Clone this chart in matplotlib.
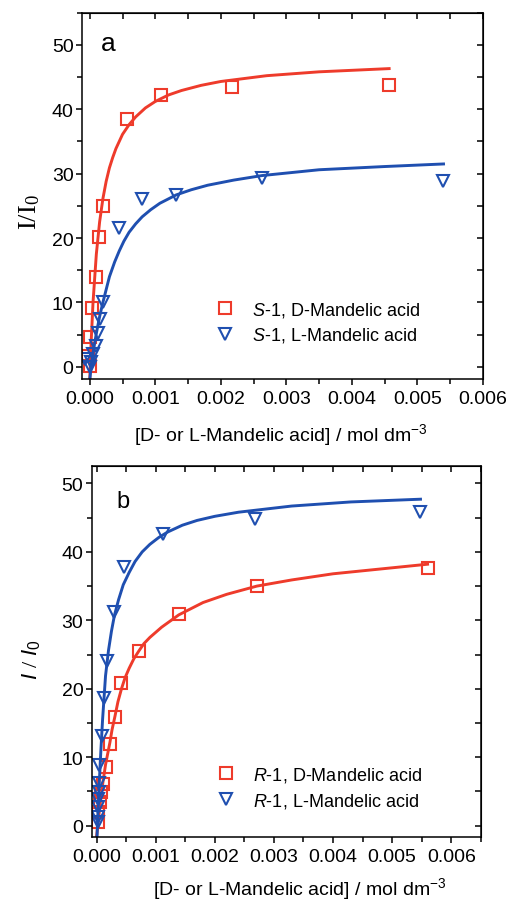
import numpy as np
import matplotlib.pyplot as plt
from matplotlib.ticker import MultipleLocator, FormatStrFormatter

plt.rcParams['font.family'] = ['Liberation Sans', 'DejaVu Sans']
plt.rcParams['mathtext.fontset'] = 'custom'
plt.rcParams['mathtext.rm'] = 'Liberation Serif'
plt.rcParams['mathtext.it'] = 'Liberation Sans:italic'
plt.rcParams['mathtext.sf'] = 'Liberation Sans'

# concentrations in mmol dm-3 (converted to mol dm-3 when plotted)
# panel a : S-1
a_d_x = [4.57, 2.17, 1.08, 0.575, 0.203, 0.142, 0.092, 0.04, 0.005, -0.02, 0.008]
a_d_y = [43.8, 43.4, 42.2, 38.5, 25.0, 20.1, 13.9, 9.1, 4.6, 1.7, 0.2]
a_l_x = [5.39, 2.63, 1.32, 0.79, 0.447, 0.203, 0.163, 0.127, 0.092, 0.05, 0.026, -0.076, 0.01]
a_l_y = [28.8, 29.3, 26.7, 26.0, 21.5, 10.0, 7.4, 5.3, 3.3, 2.0, 0.7, 1.3, 0.0]

a_d_fit_x = [0, 0.02, 0.05, 0.1, 0.15, 0.2, 0.25, 0.3, 0.35, 0.4, 0.5, 0.6, 0.7, 0.85, 1.0, 1.2,
             1.4, 1.7, 2.0, 2.7, 3.5, 4.57]
a_d_fit_y = [-2.0, 3.7, 10.1, 17.5, 22.5, 26.1, 28.8, 30.9, 32.5, 33.9, 36.1, 37.6, 38.8, 40.2, 41.2, 42.2,
             42.9, 43.7, 44.3, 45.2, 45.8, 46.3]
a_l_fit_x = [0, 0.025, 0.05, 0.1, 0.15, 0.2, 0.3, 0.38, 0.45, 0.52, 0.6, 0.7, 0.8, 0.93, 1.07, 1.32,
             1.55, 1.8, 2.2, 2.63, 3.5, 4.5, 5.4]
a_l_fit_y = [-2.0, 0.5, 2.2, 5.2, 7.8, 10.0, 14.0, 16.3, 18.0, 19.5, 20.9, 22.2, 23.3, 24.4, 25.4, 26.7,
             27.5, 28.2, 29.0, 29.7, 30.6, 31.1, 31.5]

# panel b : R-1
b_d_x = [5.6, 2.71, 1.39, 0.72, 0.42, 0.31, 0.225, 0.15, 0.11, 0.07, 0.05, 0.03, 0.02]
b_d_y = [37.6, 35.0, 30.9, 25.5, 20.8, 15.9, 11.9, 8.6, 6.1, 4.9, 3.5, 2.0, 0.5]
b_l_x = [5.48, 2.68, 1.13, 0.47, 0.30, 0.18, 0.124, 0.085, 0.044, 0.04, 0.035, 0.03, 0.025, 0.02, 0.015]
b_l_y = [45.8, 44.8, 42.6, 37.8, 31.2, 24.1, 18.7, 13.1, 8.8, 6.3, 4.9, 3.9, 2.7, 1.2, 0.5]

b_d_fit_x = [0, 0.05, 0.1, 0.15, 0.225, 0.26, 0.31, 0.36, 0.42, 0.48, 0.55, 0.63, 0.72, 0.8, 0.9, 1.1,
             1.39, 1.8, 2.2, 2.71, 3.3, 4.0, 4.8, 5.6]
b_d_fit_y = [-1.5, 2.5, 6.0, 8.9, 12.2, 14.0, 16.0, 18.1, 20.0, 21.6, 23.0, 24.4, 25.6, 26.6, 27.5, 29.0,
             30.8, 32.6, 33.8, 35.0, 35.9, 36.8, 37.5, 38.2]
b_l_fit_x = [0, 0.02, 0.04, 0.07, 0.1, 0.15, 0.2, 0.25, 0.3, 0.37, 0.45, 0.55, 0.65, 0.77, 0.9, 1.05,
             1.2, 1.45, 1.7, 2.0, 2.4, 3.3, 4.3, 5.48]
b_l_fit_y = [-3.0, 1.5, 5.5, 10.8, 15.5, 21.9, 25.6, 28.4, 30.7, 33.0, 35.2, 37.0, 38.6, 40.0, 41.1, 42.1,
             42.9, 43.9, 44.6, 45.2, 45.8, 46.7, 47.3, 47.7]

RED = '#ee3b2b'
BLUE = '#1f4fb0'

def mol(v):
    return np.array(v) * 1e-3

def style_axes(ax):
    ax.xaxis.set_major_locator(MultipleLocator(0.001))
    ax.xaxis.set_minor_locator(MultipleLocator(0.0005))
    ax.xaxis.set_major_formatter(FormatStrFormatter('%.3f'))
    ax.yaxis.set_major_locator(MultipleLocator(10))
    ax.yaxis.set_minor_locator(MultipleLocator(5))
    ax.tick_params(which='both', direction='out', labelsize=14, width=1.1)
    ax.tick_params(which='major', length=4.5)
    ax.tick_params(which='minor', length=3.5)
    ax.tick_params(axis='y', which='both', pad=1.5)
    ax.tick_params(axis='x', which='both', pad=3)
    for s in ax.spines.values():
        s.set_linewidth(1.1)
    # inward ticks on the top and right, no labels
    top = ax.secondary_xaxis('top')
    top.xaxis.set_major_locator(MultipleLocator(0.0005))
    top.tick_params(direction='in', length=4, width=1.1, labeltop=False)
    right = ax.secondary_yaxis('right')
    right.yaxis.set_major_locator(MultipleLocator(5))
    right.tick_params(direction='in', length=4, width=1.1, labelright=False)

fig = plt.figure(figsize=(5.12, 9.03), dpi=100)

mk = dict(ms=9, mew=1.5, mfc='none', ls='none')
LW = 2.1

# panel a
ax1 = fig.add_axes([0.160, 0.579, 0.783, 0.406])
ax1.plot(mol(a_d_fit_x), a_d_fit_y, color=RED, lw=LW)
ax1.plot(mol(a_d_x), a_d_y, marker='s', mec=RED, label=r'$S$-1, D-Mandelic acid', **mk)
ax1.plot(mol(a_l_fit_x), a_l_fit_y, color=BLUE, lw=LW)
ax1.plot(mol(a_l_x), a_l_y, marker='v', mec=BLUE, label=r'$S$-1, L-Mandelic acid', **mk)
ax1.set_xlim(-0.00012, 0.006)
ax1.set_ylim(-1.9, 55)
style_axes(ax1)
ax1.set_ylabel(r'$\mathrm{I/I_0}$', fontsize=19)
ax1.yaxis.set_label_coords(-0.100, 0.458)
ax1.set_xlabel(r'[D- or L-Mandelic acid] / mol dm$^{\mathsf{-3}}$', fontsize=14)
ax1.xaxis.set_label_coords(0.496, -0.115)
ax1.text(0.065, 0.918, 'a', transform=ax1.transAxes, fontsize=19, ha='center', va='center')
ax1.legend(loc='center left', bbox_to_anchor=(0.334, 0.155), frameon=False, fontsize=13,
           borderpad=0, borderaxespad=0, handlelength=1.0, handletextpad=1.0, labelspacing=0.35)

# panel b
ax2 = fig.add_axes([0.179, 0.0717, 0.760, 0.4115])
ax2.plot(mol(b_d_fit_x), b_d_fit_y, color=RED, lw=LW)
ax2.plot(mol(b_d_x), b_d_y, marker='s', mec=RED, label=r'$R$-1, D-Mandelic acid', **mk)
ax2.plot(mol(b_l_fit_x), b_l_fit_y, color=BLUE, lw=LW)
ax2.plot(mol(b_l_x), b_l_y, marker='v', mec=BLUE, label=r'$R$-1, L-Mandelic acid', **mk)
ax2.set_xlim(-0.000085, 0.0065)
ax2.set_ylim(-1.7, 52.6)
style_axes(ax2)
ax2.set_ylabel(r'$\mathit{I}\ /\ \mathit{I}_{\mathsf{0}}$', fontsize=16)
ax2.yaxis.set_label_coords(-0.125, 0.48)
ax2.set_xlabel(r'[D- or L-Mandelic acid] / mol dm$^{\mathsf{-3}}$', fontsize=14)
ax2.xaxis.set_label_coords(0.535, -0.103)
ax2.text(0.08, 0.905, 'b', transform=ax2.transAxes, fontsize=17, ha='center', va='center')
ax2.legend(loc='center left', bbox_to_anchor=(0.322, 0.134), frameon=False, fontsize=13,
           borderpad=0, borderaxespad=0, handlelength=1.0, handletextpad=1.0, labelspacing=0.35)

fig.savefig('out.png', dpi=100)
